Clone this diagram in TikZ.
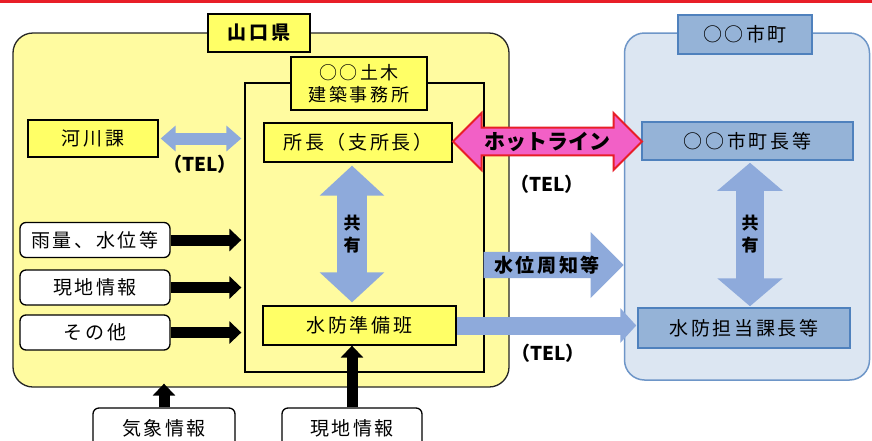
\documentclass[tikz,border=0pt]{standalone}
\usepackage{fontspec}
\setmainfont{Noto Sans CJK JP}[LetterSpace=14]
\newfontfamily\telfont{Noto Sans CJK JP}
\usetikzlibrary{arrows.meta,shapes.arrows}

\definecolor{prefyellow}{RGB}{255,251,160}
\definecolor{boxyellow}{RGB}{255,255,102}
\definecolor{cityfill}{RGB}{220,230,242}
\definecolor{cityline}{RGB}{110,150,200}
\definecolor{cityblue}{RGB}{149,179,215}
\definecolor{cityedge}{RGB}{79,129,189}
\definecolor{sharefill}{RGB}{142,170,219}
\definecolor{hotpink}{RGB}{242,96,198}
\definecolor{hotred}{RGB}{232,30,40}

\begin{document}
\begin{tikzpicture}[x=1pt,y=-1pt,
    every node/.style={inner sep=0pt,font=\fontsize{19}{22}\selectfont},
    yellowbox/.style={draw=black,line width=1.3pt,fill=boxyellow,minimum height=38pt},
    whitebox/.style={draw=black,line width=1.3pt,fill=white,rounded corners=6pt},
    citybox/.style={draw=cityedge,line width=1.5pt,fill=cityblue,minimum height=39pt},
    bluearrow/.style={draw=sharefill,line width=#1},
    blackarrow/.style={draw=black,line width=11pt,-{Triangle[length=12pt,width=22pt]}},
    telnote/.style={font=\telfont\bfseries\fontsize{19}{21}\selectfont}]

    \useasboundingbox (0,0) rectangle (872,440);
    \clip (0,0) rectangle (872,440);
    \fill[white] (0,0) rectangle (872,440);
    \fill[hotred] (0,0) rectangle (872,3); %red rule on top

    % prefecture side
    \node[draw=black!85,line width=1.3pt,fill=prefyellow,rounded corners=20pt,
      minimum width=496pt,minimum height=354pt] (pref) at (261,210) {};
    \node[yellowbox,minimum width=102pt,font=\fontsize{19}{22}\selectfont\bfseries]
      (preflabel) at (259,33) {山口県};
    \node[draw=black,line width=1.3pt,fill=prefyellow,
      minimum width=239pt,minimum height=289pt] (office) at (364.5,227.5) {};
    \node[yellowbox,minimum width=136pt,minimum height=53pt,align=center,
      font=\fontsize{18}{22}\selectfont] (officelabel) at (359,83.5) {○○土木\\建築事務所};

    \node[yellowbox,minimum width=130pt,minimum height=37pt] (kasen) at (93,138.5) {河川課};
    \node[yellowbox,minimum width=188pt,minimum height=39pt] (shocho) at (358,142.5) {所長（支所長）};
    \node[yellowbox,minimum width=193pt,minimum height=39pt] (suibo) at (359.5,325.5) {水防準備班};

    \draw[bluearrow=12pt,{Triangle[length=15pt,width=25pt]}-{Triangle[length=15pt,width=25pt]},
      shorten <=2pt,shorten >=3pt] (kasen.east) -- (kasen.east -| office.west);
    \node[telnote] (tel1) at (200,164) {（TEL）};

    \foreach \name/\ypos/\txt in {ryo/240/雨量、水位等,genchi/287.5/現地情報,sonota/332.5/その他} {
      \node[whitebox,minimum width=150pt,minimum height=35pt] (\name) at (95,\ypos) {\txt};
      \draw[blackarrow,shorten >=3pt] (\name.east) -- (\name.east -| office.west);
    }

    \draw[bluearrow=30pt,{Triangle[length=30pt,width=63pt]}-{Triangle[length=30pt,width=63pt]},
      shorten <=3pt,shorten >=3pt]
      ([xshift=-6pt]shocho.south) -- ([xshift=-6pt]shocho.south |- suibo.north)
      node[midway,align=center,font=\fontsize{17}{22}\selectfont\bfseries] (share1) {共\\有};

    % outside information
    \node[whitebox,minimum width=142pt,minimum height=40pt] (kisho) at (164,428) {気象情報};
    \node[whitebox,minimum width=140pt,minimum height=40pt] (genchi2) at (352,428) {現地情報};
    \draw[blackarrow,shorten >=-4pt] (kisho.north) -- (kisho.north |- pref.south);
    \draw[blackarrow] (genchi2.north) -- (genchi2.north |- suibo.south);

    % city side
    \node[draw=cityline,line width=1.5pt,fill=cityfill,rounded corners=20pt,
      minimum width=245pt,minimum height=347pt] (city) at (747,206.5) {};
    \node[citybox,minimum width=134pt] (citylabel) at (745,34.5) {○○市町};
    \node[citybox,minimum width=211pt,minimum height=38pt] (mayor) at (747.5,141) {○○市町長等};
    \node[citybox,minimum width=212pt,minimum height=40pt] (bosai) at (744,328) {水防担当課長等};

    \draw[bluearrow=28pt,{Triangle[length=28pt,width=64pt]}-{Triangle[length=28pt,width=64pt]},
      shorten <=2pt,shorten >=1pt]
      ([xshift=2.5pt]mayor.south) -- ([xshift=2.5pt]mayor.south |- bosai.north)
      node[midway,align=center,font=\fontsize{17}{22}\selectfont\bfseries] (share2) {共\\有};

    % links between both
    \node[double arrow,draw=hotred,line width=2pt,fill=hotpink,
      minimum height=189pt,minimum width=57pt,double arrow head extend=11.5pt,
      font=\telfont\bfseries\fontsize{21}{24}\selectfont] (hotline) at (547.5,141.5) {ホットライン};
    \node[telnote] (tel2) at (547,184) {（TEL）};

    \node[single arrow,fill=sharefill,minimum height=140pt,minimum width=66pt,
      single arrow head extend=14pt,font=\fontsize{19}{22}\selectfont\bfseries]
      (suii) at (547,265) {水位周知等};

    \draw[bluearrow=18pt,-{Triangle[length=16pt,width=34pt]},shorten >=1pt]
      (suibo.east) -- (suibo.east -| bosai.west);
    \node[telnote] (tel3) at (548,353) {（TEL）};
  \end{tikzpicture}
\end{document}
